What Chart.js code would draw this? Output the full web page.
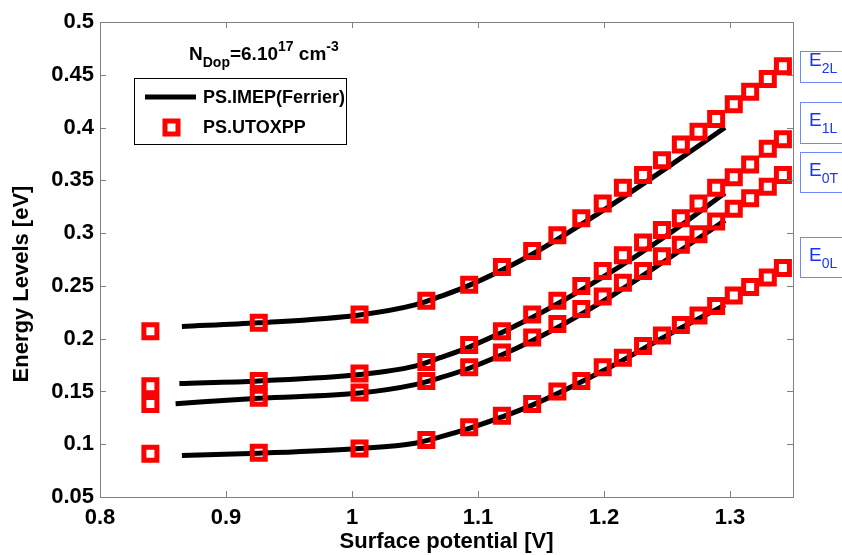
<!DOCTYPE html>
<html>
<head>
<meta charset="utf-8">
<script src="https://cdn.jsdelivr.net/npm/chart.js@4/dist/chart.umd.min.js"></script>
<style>
  html,body{margin:0;padding:0;background:#fff;}
  #wrap{width:842px;height:555px;position:relative;}
</style>
</head>
<body>
<div id="wrap"><canvas id="c" width="842" height="555"></canvas></div>
<script>
// surface potential of the UTOXPP points [V]
const sqX = [0.840,0.926,1.006,1.059,1.093,1.119,1.143,1.163,1.182,1.199,1.215,1.231,1.246,1.261,1.275,1.289,1.303,1.316,1.330,1.342];
// PS.UTOXPP energy levels [eV]
const utoE2L = [0.207,0.215,0.223,0.236,0.251,0.268,0.283,0.298,0.314,0.328,0.343,0.355,0.369,0.384,0.396,0.408,0.422,0.434,0.446,0.458];
const utoE1L = [0.155,0.160,0.167,0.178,0.194,0.207,0.223,0.236,0.250,0.264,0.279,0.291,0.303,0.314,0.328,0.343,0.353,0.365,0.380,0.389];
const utoE0T = [0.138,0.144,0.149,0.160,0.173,0.187,0.201,0.214,0.228,0.240,0.253,0.264,0.278,0.289,0.299,0.311,0.323,0.333,0.344,0.355];
const utoE0L = [0.091,0.092,0.096,0.104,0.116,0.127,0.138,0.150,0.160,0.173,0.182,0.193,0.203,0.213,0.222,0.231,0.241,0.249,0.258,0.267];

// PS.IMEP(Ferrier) curves
const lineX = [0.865,0.926,1.006,1.05,1.07,1.093,1.143,1.2,1.25,1.296];
const lineStart = [0.865,0.863,0.860,0.865];
const imepE2L = [0.2116,0.215,0.2225,0.232,0.240,0.2505,0.280,0.322,0.362,0.400];
const imepE1L = [0.1575,0.160,0.166,0.174,0.182,0.192,0.220,0.259,0.298,0.338];
const imepE0T = [0.1384,0.1435,0.1485,0.1565,0.163,0.172,0.198,0.236,0.275,0.312];
const imepE0L = [0.0893,0.0915,0.096,0.101,0.107,0.115,0.137,0.170,0.203,0.232];

const xTicks = [0.8,0.9,1,1.1,1.2,1.3];
const yTicks = [0.05,0.1,0.15,0.2,0.25,0.3,0.35,0.4,0.45,0.5];

const levelMain = ['E','E','E','E'];
const levelSub = ['2L','1L','0T','0L'];

const FONT = '"Liberation Sans", Arial, sans-serif';

function pts(xs, ys){ return ys.map((y,i)=>({x:xs[i], y:y})); }
function linePts(k, ys){ return ys.map((y,i)=>({x: i===0 ? lineStart[k] : lineX[i], y:y})); }

const uto = [utoE2L,utoE1L,utoE0T,utoE0L];
const imep = [imepE2L,imepE1L,imepE0T,imepE0L];

const datasets = [];
uto.forEach(s=>{
  datasets.push({
    data: pts(sqX,s), showLine:false, order:0,
    pointStyle:'rect', pointRadius:9.2, pointBorderWidth:5,
    pointBorderColor:'#ff0000', pointBackgroundColor:'rgba(0,0,0,0)',
    clip:false
  });
});
imep.forEach((s,k)=>{
  datasets.push({
    data: linePts(k,s), showLine:true, order:1,
    borderColor:'#000', borderWidth:5, pointRadius:0,
    tension:0.4, cubicInterpolationMode:'monotone', fill:false
  });
});

// frame, inward ticks, y title, legend box, doping note, level tags
const decor = {
  id:'decor',
  afterDraw(chart){
    const ctx = chart.ctx;
    const a = chart.chartArea;
    const xs = chart.scales.x, ys = chart.scales.y;
    ctx.save();
    ctx.strokeStyle = '#808080';
    ctx.lineWidth = 1;
    ctx.strokeRect(Math.round(a.left)+0.5, Math.round(a.top)+0.5, Math.round(a.right-a.left), Math.round(a.bottom-a.top));
    ctx.beginPath();
    xTicks.forEach(v=>{
      const p = Math.round(xs.getPixelForValue(v))+0.5;
      ctx.moveTo(p,a.bottom); ctx.lineTo(p,a.bottom-6);
      ctx.moveTo(p,a.top); ctx.lineTo(p,a.top+6);
    });
    yTicks.forEach(v=>{
      const p = Math.round(ys.getPixelForValue(v))+0.5;
      ctx.moveTo(a.left,p); ctx.lineTo(a.left+6,p);
      ctx.moveTo(a.right,p); ctx.lineTo(a.right-6,p);
    });
    ctx.stroke();

    // y axis title
    ctx.save();
    ctx.translate(22, 284);
    ctx.rotate(-Math.PI/2);
    ctx.fillStyle = '#000';
    ctx.font = 'bold 22px '+FONT;
    ctx.textAlign = 'center';
    ctx.textBaseline = 'middle';
    ctx.fillText('Energy Levels [eV]', 0, 0);
    ctx.restore();

    // doping note
    ctx.fillStyle = '#000';
    ctx.textBaseline = 'alphabetic';
    let x = 189;
    const base = 60;
    ctx.font = 'bold 19px '+FONT;
    ctx.fillText('N', x, base); x += ctx.measureText('N').width;
    ctx.font = 'bold 14px '+FONT;
    ctx.fillText('Dop', x, base+7); x += ctx.measureText('Dop').width;
    ctx.font = 'bold 19px '+FONT;
    ctx.fillText('=6.10', x, base); x += ctx.measureText('=6.10').width;
    ctx.font = 'bold 14px '+FONT;
    ctx.fillText('17', x, base-9); x += ctx.measureText('17').width;
    ctx.font = 'bold 19px '+FONT;
    ctx.fillText(' cm', x, base); x += ctx.measureText(' cm').width;
    ctx.font = 'bold 14px '+FONT;
    ctx.fillText('-3', x, base-9);

    // legend
    ctx.fillStyle = '#fff';
    ctx.fillRect(134,78,212,66);
    ctx.strokeStyle = '#000';
    ctx.lineWidth = 1;
    ctx.strokeRect(134.5,78.5,212,66);
    ctx.beginPath();
    ctx.lineWidth = 5;
    ctx.moveTo(145,97); ctx.lineTo(196,97);
    ctx.stroke();
    ctx.strokeStyle = '#ff0000';
    ctx.lineWidth = 5;
    ctx.strokeRect(165,121,13,13);
    ctx.fillStyle = '#000';
    ctx.font = 'bold 18px '+FONT;
    ctx.textBaseline = 'middle';
    ctx.fillText('PS.IMEP(Ferrier)', 203, 98);
    ctx.fillText('PS.UTOXPP', 203, 128);

    // level tags on the right
    const tagTop = [51,102,152,237];
    const tagH = [31,41,40,40];
    ctx.textBaseline = 'alphabetic';
    tagTop.forEach((t,i)=>{
      ctx.strokeStyle = '#6f86ff';
      ctx.lineWidth = 1;
      ctx.strokeRect(800.5, t+0.5, 60, tagH[i]);
      ctx.fillStyle = '#1a35f0';
      ctx.font = '19px '+FONT;
      const eb = t + (i===0 ? 15 : 24);
      ctx.fillText(levelMain[i], 809, eb);
      const w = ctx.measureText(levelMain[i]).width;
      ctx.font = '14px '+FONT;
      ctx.fillText(levelSub[i], 809+w, eb+7);
    });
    ctx.restore();
  }
};

const fmt = v => String(+Number(v).toFixed(2));

new Chart(document.getElementById('c'), {
  type:'scatter',
  data:{datasets:datasets},
  options:{
    responsive:false,
    animation:false,
    events:[],
    layout:{padding:{top:22,right:49,left:0,bottom:0}},
    plugins:{legend:{display:false},tooltip:{enabled:false}},
    scales:{
      x:{
        type:'linear', min:0.8, max:1.35,
        afterBuildTicks: s => { s.ticks = xTicks.map(v=>({value:v})); },
        afterFit: s => { s.height = 58; },
        grid:{display:false, drawTicks:false},
        border:{display:false},
        ticks:{padding:8, color:'#000', font:{family:FONT, size:22, weight:'bold'}, callback:fmt, maxRotation:0},
        title:{display:true, text:'Surface potential [V]', color:'#000', padding:{top:0,bottom:0}, font:{family:FONT, size:22, weight:'bold'}}
      },
      y:{
        type:'linear', min:0.05, max:0.5,
        afterBuildTicks: s => { s.ticks = yTicks.map(v=>({value:v})); },
        afterFit: s => { s.width = 100; },
        grid:{display:false, drawTicks:false},
        border:{display:false},
        ticks:{padding:6, color:'#000', font:{family:FONT, size:22, weight:'bold'}, callback:fmt},
        title:{display:false}
      }
    }
  },
  plugins:[decor]
});
</script>
</body>
</html>
